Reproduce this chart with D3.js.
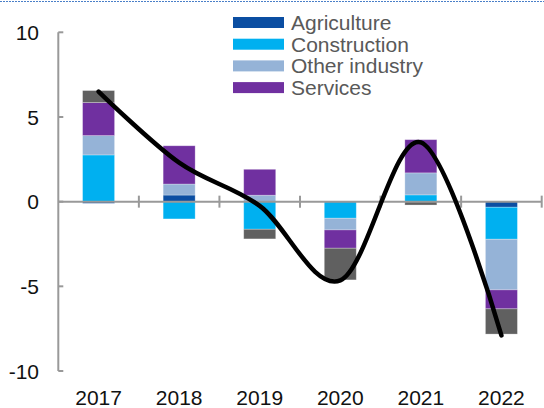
<!DOCTYPE html>
<html>
<head>
<meta charset="utf-8">
<script src="https://cdn.jsdelivr.net/npm/d3@7"></script>
<style>
  html, body { margin: 0; padding: 0; background: #ffffff; }
  svg { display: block; font-family: "Liberation Sans", Arial, sans-serif; }
</style>
</head>
<body>
<svg id="chart" width="544" height="408"></svg>
<script>
// ---- data ----
const years = ["2017", "2018", "2019", "2020", "2021", "2022"];
const agriculture   = [-0.10,  0.39,  0.00,  0.00,  0.00, -0.33];
const construction  = [ 2.76, -1.02, -1.63, -0.98,  0.40, -1.89];
const otherIndustry = [ 1.14,  0.65,  0.38, -0.69,  1.30, -2.99];
const services      = [ 1.95,  2.26,  1.53, -1.08,  1.96, -1.12];
const netTaxes      = [ 0.71,  0.00, -0.57, -1.87, -0.20, -1.49];
const gdpGrowth     = [ 6.5,   2.3,  -0.25, -4.65,  3.5,  -7.9];
const yTicks = [-10, -5, 0, 5, 10];
const seriesNames = ["Agriculture", "Construction", "Other industry", "Services", "Net taxes"];
const legendNames = ["Agriculture", "Construction", "Other industry", "Services"];
const colors = ["#0b4ea2", "#00b0f0", "#95b3d7", "#7030a0", "#606060"];

(function () {
// ---- layout ----
const svg = d3.select("#chart");
const mLeft = 58.3, mRight = 541.7, mTop = 32.3, mBottom = 371;
const fontSize = 21;

const table = years.map((yr, i) => ({
  year: yr,
  "Agriculture": agriculture[i],
  "Construction": construction[i],
  "Other industry": otherIndustry[i],
  "Services": services[i],
  "Net taxes": netTaxes[i]
}));

const x = d3.scaleBand().domain(years).range([mLeft, mRight]).paddingInner(0).paddingOuter(0);
const y = d3.scaleLinear().domain([-10, 10]).range([mBottom, mTop]);
const barW = 32;

// top dashed line
svg.append("line")
  .attr("x1", 0).attr("x2", 544).attr("y1", 1.5).attr("y2", 1.5)
  .attr("stroke", "#4a7fc8").attr("stroke-width", 1.2)
  .attr("stroke-dasharray", "2,1");

// bars
const stack = d3.stack().keys(seriesNames).offset(d3.stackOffsetDiverging);
const stacked = stack(table);
const color = d3.scaleOrdinal().domain(seriesNames).range(colors);

svg.append("g").selectAll("g")
  .data(stacked).join("g")
  .attr("fill", d => color(d.key))
  .selectAll("rect")
  .data(d => d).join("rect")
  .attr("x", d => x(d.data.year) + x.bandwidth() / 2 - barW / 2)
  .attr("width", barW)
  .attr("y", d => y(Math.max(d[0], d[1])))
  .attr("height", d => Math.abs(y(d[0]) - y(d[1])))
  .attr("stroke", "rgba(255,255,255,0.35)")
  .attr("stroke-width", 0.8);

// y axis
const axisColor = "#999999";
const yAxis = svg.append("g");
yAxis.append("line")
  .attr("x1", mLeft).attr("x2", mLeft).attr("y1", y(10)).attr("y2", y(-10))
  .attr("stroke", axisColor).attr("stroke-width", 2);
yAxis.selectAll("line.tick").data(yTicks).join("line")
  .attr("class", "tick")
  .attr("x1", mLeft).attr("x2", mLeft + 5)
  .attr("y1", d => y(d)).attr("y2", d => y(d))
  .attr("stroke", axisColor).attr("stroke-width", 2);
yAxis.selectAll("text").data(yTicks).join("text")
  .attr("x", 39).attr("y", d => y(d))
  .attr("dy", "0.36em")
  .attr("text-anchor", "end")
  .attr("font-size", fontSize)
  .attr("fill", "#111111")
  .text(d => d);

// x axis at zero
const xAxis = svg.append("g");
xAxis.append("line")
  .attr("x1", mLeft).attr("x2", mRight).attr("y1", y(0)).attr("y2", y(0))
  .attr("stroke", axisColor).attr("stroke-width", 2);
const bounds = years.map(d => x(d) + x.bandwidth());
xAxis.selectAll("line.tick").data(bounds).join("line")
  .attr("class", "tick")
  .attr("x1", d => d).attr("x2", d => d)
  .attr("y1", y(0) - 6).attr("y2", y(0) + 6)
  .attr("stroke", axisColor).attr("stroke-width", 2);
xAxis.selectAll("text").data(years).join("text")
  .attr("x", d => x(d) + x.bandwidth() / 2)
  .attr("y", 405)
  .attr("text-anchor", "middle")
  .attr("font-size", fontSize)
  .attr("fill", "#111111")
  .text(d => d);

// line
const line = d3.line()
  .x((d, i) => x(years[i]) + x.bandwidth() / 2)
  .y(d => y(d))
  .curve(d3.curveCardinal.tension(0));
svg.append("path")
  .datum(gdpGrowth)
  .attr("d", line)
  .attr("fill", "none")
  .attr("stroke", "#000000")
  .attr("stroke-width", 4.5)
  .attr("stroke-linecap", "round")
  .attr("stroke-linejoin", "round");

// legend
const legend = svg.append("g");
legendNames.forEach((name, i) => {
  const cy = 22.5 + i * 21.7;
  legend.append("rect")
    .attr("x", 233).attr("y", cy - 5.5).attr("width", 51).attr("height", 11)
    .attr("fill", color(name));
  legend.append("text")
    .attr("x", 291).attr("y", cy)
    .attr("dy", "0.36em")
    .attr("font-size", fontSize)
    .attr("fill", "#595959")
    .text(name);
});
})();
</script>
</body>
</html>
